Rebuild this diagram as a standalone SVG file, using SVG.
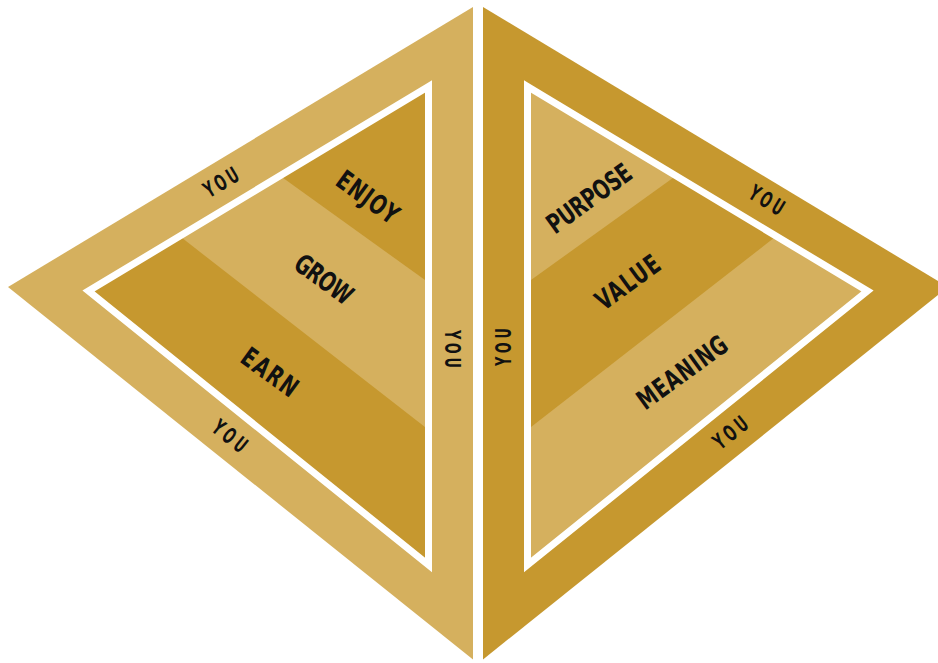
<svg xmlns="http://www.w3.org/2000/svg" width="938" height="663" viewBox="0 0 938 663">
  <style>
    .light { fill: #D5B05E; }
    .dark { fill: #C6982F; }
    .outline { fill: none; stroke: #FFFFFF; stroke-width: 7; stroke-linejoin: miter; }
    .lbl { font-family: "Liberation Sans Narrow", "DejaVu Sans Condensed", "Liberation Sans", sans-serif; font-weight: bold; font-size: 27px; fill: #111111; text-anchor: middle; }
    .you { font-family: "Liberation Sans Narrow", "DejaVu Sans Condensed", "Liberation Sans", sans-serif; font-weight: bold; font-size: 22px; fill: #111111; text-anchor: middle; }
  </style>
  <rect x="0" y="0" width="938" height="663" fill="#FFFFFF"/>

  <g id="left-pyramid">
    <polygon class="light" points="473,7 8,287 473,659.5"/>
    <polygon class="dark" points="428.5,86.5 88.5,291 428.5,565"/>
    <polygon class="light" points="280,175.8 179.6,236.1 428.5,429.7 428.5,282.5"/>
    <polygon class="outline" points="428.5,86.5 88.5,291 428.5,565"/>
  </g>

  <g id="right-pyramid">
    <polygon class="dark" points="483,7 948,287 483,659.5"/>
    <polygon class="light" points="527.5,86.5 867.5,291 527.5,565"/>
    <polygon class="dark" points="676,175.8 776.4,236.1 527.5,429.7 527.5,282.5"/>
    <polygon class="outline" points="527.5,86.5 867.5,291 527.5,565"/>
  </g>

  <g id="left-labels">
    <text class="lbl" transform="translate(368 197) rotate(36) scale(0.78 1)" y="9.7" textLength="89.7" lengthAdjust="spacing">ENJOY</text>
    <text class="lbl" transform="translate(324 279) rotate(36) scale(0.78 1)" y="9.7" textLength="83.3" lengthAdjust="spacing">GROW</text>
    <text class="lbl" transform="translate(270 372) rotate(36) scale(0.78 1)" y="9.7" textLength="80.8" lengthAdjust="spacing">EARN</text>
  </g>

  <g id="right-labels">
    <text class="lbl" transform="translate(589 198) rotate(-36) scale(0.78 1)" y="9.7" textLength="125.6" lengthAdjust="spacing">PURPOSE</text>
    <text class="lbl" transform="translate(627.5 282) rotate(-36) scale(0.78 1)" y="9.7" textLength="93.6" lengthAdjust="spacing">VALUE</text>
    <text class="lbl" transform="translate(682 372) rotate(-36) scale(0.78 1)" y="9.7" textLength="134.6" lengthAdjust="spacing">MEANING</text>
  </g>

  <g id="you-labels">
    <text class="you" transform="translate(221 182) rotate(-31) scale(0.65 1)" y="7.9" textLength="57" lengthAdjust="spacing">YOU</text>
    <text class="you" transform="translate(230 436) rotate(38.7) scale(0.65 1)" y="7.9" textLength="58.5" lengthAdjust="spacing">YOU</text>
    <text class="you" transform="translate(453 349) rotate(90) scale(0.65 1)" y="7.9" textLength="58.5" lengthAdjust="spacing">YOU</text>
    <text class="you" transform="translate(503 347) rotate(-90) scale(0.65 1)" y="7.9" textLength="58.5" lengthAdjust="spacing">YOU</text>
    <text class="you" transform="translate(767 200) rotate(31) scale(0.65 1)" y="7.9" textLength="57" lengthAdjust="spacing">YOU</text>
    <text class="you" transform="translate(730.5 432.5) rotate(-38.7) scale(0.65 1)" y="7.9" textLength="58.5" lengthAdjust="spacing">YOU</text>
  </g>
</svg>
